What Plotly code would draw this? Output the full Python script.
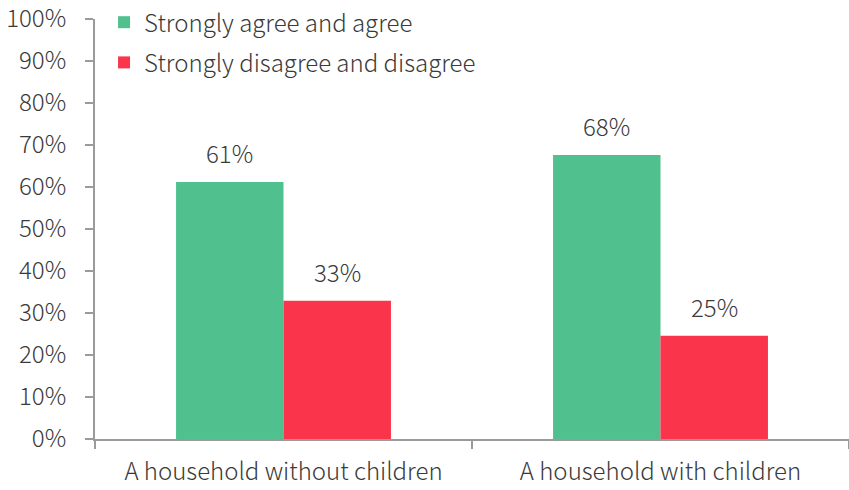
import plotly.graph_objects as go

categories = ["A household without children", "A household with children"]
agree = [61.2, 67.6]
disagree = [32.9, 24.6]
series_names = ["Strongly agree and agree", "Strongly disagree and disagree"]
series_colors = ["#50C08F", "#F9344B"]

FONT = "Noto Sans CJK SC"
TEXT_COLOR = "#3a3a3a"
AXIS_COLOR = "#9a9a9a"
FS = 24
BARGAP = 0.43

fig = go.Figure()
for i, (name, vals, color) in enumerate(zip(series_names, [agree, disagree], series_colors)):
    fig.add_trace(go.Bar(
        x=categories, y=vals, name=name, legendgroup=f"g{i}",
        marker=dict(color=color, line=dict(width=0)),
        cliponaxis=False,
    ))

# value labels sit above each bar, shifted to the bar's slot inside its group
plot_w = 849 - 95
slot_w = plot_w / len(categories) * (1 - BARGAP) / 2
for i, vals in enumerate([agree, disagree]):
    shift = (i - 0.5) * slot_w
    for c, v in zip(categories, vals):
        fig.add_annotation(
            x=c, y=v, xref="x", yref="y", text=f"{round(v)}%", showarrow=False,
            xshift=shift, yshift=10, yanchor="bottom",
            font=dict(family=FONT, size=FS, color=TEXT_COLOR, weight=300),
        )

fig.update_layout(
    width=849, height=490,
    margin=dict(l=95, r=0, t=19, b=51),
    paper_bgcolor="white", plot_bgcolor="white",
    barmode="group", bargap=BARGAP, bargroupgap=0,
    font=dict(family=FONT, size=FS, color=TEXT_COLOR, weight=300),
    legend=dict(
        x=0.012, y=1.045, xanchor="left", yanchor="top",
        bgcolor="rgba(0,0,0,0)", font=dict(size=FS, family=FONT, weight=300),
        tracegroupgap=6, itemwidth=30, traceorder="grouped",
    ),
    xaxis=dict(
        showline=True, linecolor=AXIS_COLOR, linewidth=2,
        ticks="outside", tickson="boundaries", ticklen=8, tickcolor=AXIS_COLOR, tickwidth=2,
        showgrid=False, tickfont=dict(size=FS, family=FONT, weight=300),
        ticklabelstandoff=10, ticklabeloverflow="allow",
    ),
    yaxis=dict(
        range=[0, 100], dtick=10, ticksuffix="%",
        showline=True, linecolor=AXIS_COLOR, linewidth=2,
        ticks="outside", ticklen=8, tickcolor=AXIS_COLOR, tickwidth=2,
        showgrid=False, zeroline=False, tickfont=dict(size=FS, family=FONT, weight=300),
        ticklabelstandoff=14, ticklabeloverflow="allow",
    ),
)

fig.write_html("out.html")
